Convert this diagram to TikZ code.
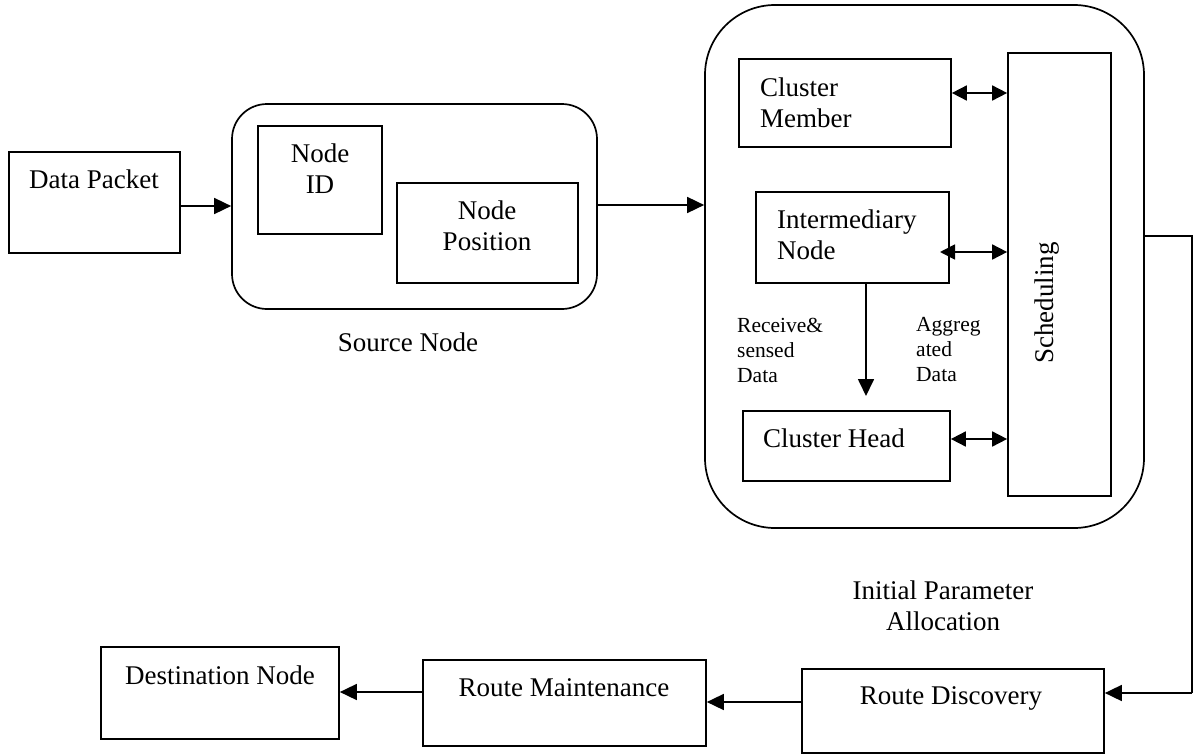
\documentclass[tikz,border=0pt]{standalone}
\usepackage{fontspec}
\setmainfont{Liberation Serif}
\usetikzlibrary{arrows.meta,calc}
\tikzset{
  blk/.style={draw, line width=1.7pt, inner sep=0pt},
  rblk/.style={blk, rounded corners=#1},
  txt/.style={inner sep=0pt, font=\fontsize{27}{31}\selectfont},
  stxt/.style={inner sep=0pt, align=left, font=\fontsize{21.5}{25}\selectfont},
  arr/.style={line width=1.7pt, -{Triangle[length=17pt,width=16pt]}},
  darr/.style={line width=1.7pt, {Triangle[length=15pt,width=15pt]}-{Triangle[length=15pt,width=15pt]}},
  ln/.style={line width=1.7pt}
}
\begin{document}
\begin{tikzpicture}[x=1pt,y=-1pt]
\useasboundingbox (0,0) rectangle (1195,755);
% source side
\node[blk, minimum width=171pt, minimum height=101pt] (dp) at (94.5,202.5) {};
\node[txt] (tdp) at (94,179) {Data Packet};
\node[rblk=35pt, minimum width=365pt, minimum height=205pt] (src) at (414.5,206.5) {};
\node[blk, minimum width=124pt, minimum height=108pt] (nid) at (320,180) {};
\node[txt, align=center] (tnid) at (320,168.5) {Node\\ID};
\node[blk, minimum width=181pt, minimum height=100pt] (npos) at (487.5,233) {};
\node[txt, align=center] (tnpos) at (487,226) {Node\\Position};
\node[txt] (tsrc) at (408,342) {Source Node};
% cluster box
\node[rblk=70pt, minimum width=439pt, minimum height=523pt] (big) at (924.5,266.5) {};
\node[blk, minimum width=212pt, minimum height=88pt] (cm) at (845,103) {};
\node[txt, align=left, anchor=west] (tcm) at (760,102.5) {Cluster\\Member};
\node[blk, minimum width=103pt, minimum height=443pt] (sched) at (1059.5,274.5) {};
\node[txt, rotate=90] (tsched) at (1047,303) {Scheduling};
\node[blk, minimum width=193pt, minimum height=91pt] (inm) at (852.5,237.5) {};
\node[txt, align=left, anchor=west] (tinm) at (777,235) {Intermediary\\Node};
\node[blk, minimum width=207pt, minimum height=70pt] (ch) at (846.5,446) {};
\node[txt] (tch) at (834,438) {Cluster Head};
\node[stxt, anchor=west] (trec) at (737,350) {Receive\&\\sensed\\Data};
\node[stxt, anchor=west] (tagg) at (916,350) {Aggreg\\ated\\Data};
\coordinate (chtop) at (866,396);
% bottom row
\node[txt, align=center] (tinit) at (943,605.5) {Initial Parameter\\Allocation};
\node[blk, minimum width=302pt, minimum height=84pt] (rd) at (953,711) {};
\node[txt] (trd) at (951,698) {Route Discovery};
\node[blk, minimum width=283pt, minimum height=86pt] (rm) at (564.5,703) {};
\node[txt] (trm) at (564,688) {Route Maintenance};
\node[blk, minimum width=238pt, minimum height=92pt] (dest) at (220,693) {};
\node[txt] (tdest) at (220,675) {Destination Node};
\coordinate (c1) at (1192,236);
\coordinate (c2) at (1192,693);
% connectors
\draw[arr] (dp.east |- 0,206) -- (src.west |- 0,206);
\draw[arr] (src.east |- 0,205) -- (big.west |- 0,205);
\draw[darr] (cm.east |- 0,93) -- (sched.west |- 0,93);
\draw[darr] (940,252) -- (sched.west |- 0,252);
\draw[darr] (ch.east |- 0,439) -- (sched.west |- 0,439);
\draw[arr] (inm.south -| chtop) -- (chtop);
\draw[ln] (big.east |- c1) -- (c1) -- (c2);
\draw[arr] (c2) -- (rd.east |- c2);
\draw[arr] (rd.west |- 0,702) -- (rm.east |- 0,702);
\draw[arr] (rm.west |- 0,692) -- (dest.east |- 0,692);
\end{tikzpicture}
\end{document}
